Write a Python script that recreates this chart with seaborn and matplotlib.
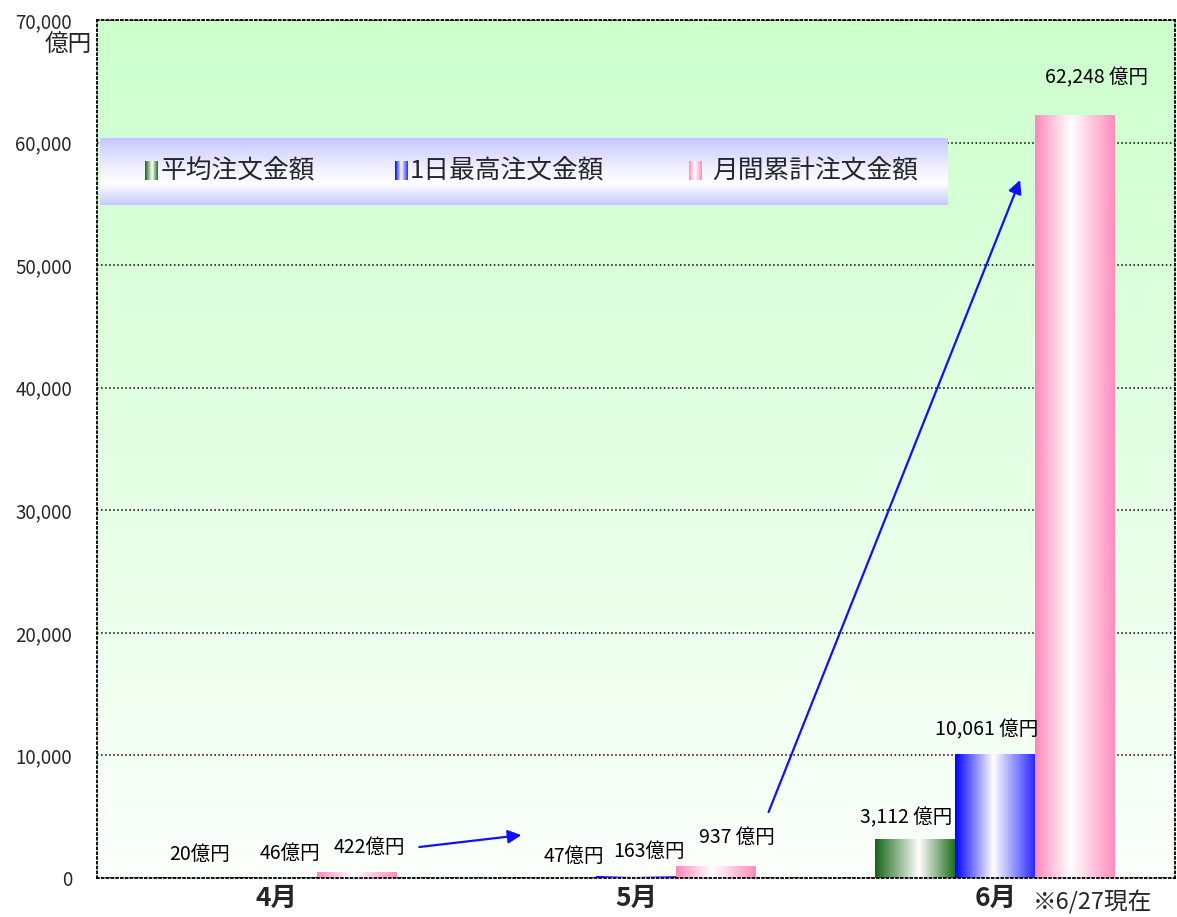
import numpy as np
import pandas as pd
import matplotlib
matplotlib.use('Agg')
import matplotlib.pyplot as plt
from matplotlib.colors import LinearSegmentedColormap
from matplotlib.ticker import FuncFormatter
import seaborn as sns

# ---- data ----
months = ['4月', '5月', '6月']
series = ['平均注文金額', '1日最高注文金額', '月間累計注文金額']
avg_amount = [20, 47, 3112]
max_amount = [46, 163, 10061]
cum_amount = [422, 937, 62248]
avg_labels = ['20億円', '47億円', '3,112 億円']
max_labels = ['46億円', '163億円', '10,061 億円']
cum_labels = ['422億円', '937 億円', '62,248 億円']

df = pd.DataFrame({
    'month': months * 3,
    'series': [series[0]] * 3 + [series[1]] * 3 + [series[2]] * 3,
    'value': avg_amount + max_amount + cum_amount,
    'label': avg_labels + max_labels + cum_labels,
})

sns.set_theme(style='white')
plt.rcParams['font.family'] = ['Noto Sans CJK JP', 'DejaVu Sans']

W, H = 1177, 917
fig = plt.figure(figsize=(W / 100, H / 100), dpi=100)
ax = fig.add_axes([97 / W, 1 - 878 / H, (1175 - 97) / W, (878 - 20) / H])

# edge colours (left, white centre, right) for gradient bars
grad_cols = {
    series[0]: [(0, '#146614'), (0.55, '#ffffff'), (1, '#1f6f1f')],
    series[1]: [(0, '#0000ff'), (0.48, '#ffffff'), (1, '#2a2aff')],
    series[2]: [(0, '#ff88bb'), (0.45, '#ffffff'), (1, '#ff8cbd')],
}
palette = ['#146614', '#0000ff', '#ff88bb']

sns.barplot(data=df, x='month', y='value', hue='series', order=months,
            hue_order=series, palette=palette, width=0.667, saturation=1,
            legend=False, ax=ax, zorder=2)

# background gradient (white bottom -> light green top)
bg = LinearSegmentedColormap.from_list('bg', ['#fbfffb', '#ccffcc'])
ax.imshow(np.linspace(0, 1, 256).reshape(-1, 1), extent=[-0.5, 2.5, 0, 70000],
          origin='lower', aspect='auto', cmap=bg, zorder=0)

# replace flat bars with horizontal gradients
hgrad = np.linspace(0, 1, 256).reshape(1, -1)
for p in list(ax.patches):
    fc = matplotlib.colors.to_hex(p.get_facecolor())
    idx = [matplotlib.colors.to_hex(c) for c in palette].index(fc)
    cmap = LinearSegmentedColormap.from_list('g%d' % idx, grad_cols[series[idx]])
    x0, y0 = p.get_x(), p.get_y()
    ax.imshow(hgrad, extent=[x0, x0 + p.get_width(), y0, y0 + p.get_height()],
              aspect='auto', cmap=cmap, zorder=2, interpolation='bilinear')
    p.set_visible(False)

# value labels
bar_w = 0.667 / 3
nudges = [[(3, 23), (13, 24), (13, 25)],
          [(18, 21), (13, 25), (21, 29)],
          [(-9, 22), (-9, 25), (21, 37)]]
for _, r in df.iterrows():
    i = months.index(r['month'])
    k = series.index(r['series'])
    dx, dy = nudges[i][k]
    ax.annotate(r['label'], xy=(i + (k - 1) * bar_w, r['value']), xytext=(dx, dy),
                textcoords='offset pixels', ha='center', va='center',
                fontsize=14, color='black', zorder=5)

# arrows
arrow_kw = dict(arrowstyle='-|>', color='#1010ff', lw=1.6, mutation_scale=20,
                shrinkA=0, shrinkB=0)
ax.annotate('', xy=(0.681, 3500), xytext=(0.397, 2530), arrowprops=arrow_kw, zorder=6)
ax.annotate('', xy=(2.069, 56950), xytext=(1.369, 5385), arrowprops=arrow_kw, zorder=6)

# axes styling
ax.set_xlim(-0.5, 2.5)
ax.set_ylim(0, 70000)
ax.set_yticks(range(0, 70001, 10000))
ax.yaxis.set_major_formatter(FuncFormatter(lambda v, _: f'{int(v):,}'))
ax.yaxis.grid(True, linestyle=':', color='black', lw=1.1)
ax.set_axisbelow(True)
for g in ax.get_ygridlines():
    g.set_zorder(1)
for s in ax.spines.values():
    s.set_linestyle(':')
    s.set_color('black')
    s.set_linewidth(1.3)
ax.set_xlabel('')
ax.set_ylabel('')
ax.tick_params(axis='y', labelsize=13.5, length=0, pad=18)
ax.tick_params(axis='x', labelsize=19, length=0, pad=5)
for t in ax.get_xticklabels():
    t.set_fontweight('bold')
ax.set_xticks([0.5, 1.5], minor=True)
ax.tick_params(axis='x', which='minor', direction='in', length=7, width=1, color='black')

fig.text(92 / W, 1 - 45 / H, '億円', ha='right', va='center', fontsize=17)
fig.text(1033 / W, 1 - 902 / H, '※6/27現在', ha='left', va='center', fontsize=17)

# legend box with vertical lavender gradient
lax = fig.add_axes([100 / W, 1 - 205 / H, 848 / W, 67 / H], zorder=10)
lav = LinearSegmentedColormap.from_list('lav', [(0, '#c8c8ff'), (0.33, '#ffffff'),
                                                 (0.55, '#f0f0ff'), (1, '#c8c8ff')])
lax.imshow(np.linspace(0, 1, 128).reshape(-1, 1), extent=[0, 1, 0, 1],
           origin='lower', aspect='auto', cmap=lav)
marker_x = [0.053, 0.348, 0.694]
text_x = [0.071, 0.365, 0.722]
for k, name in enumerate(series):
    cmap = LinearSegmentedColormap.from_list('m%d' % k, grad_cols[name])
    lax.imshow(hgrad, extent=[marker_x[k], marker_x[k] + 0.0145, 0.37, 0.64],
               aspect='auto', cmap=cmap)
    lax.text(text_x[k], 0.5, name, ha='left', va='center', fontsize=18.5)
lax.set_xlim(0, 1)
lax.set_ylim(0, 1)
lax.axis('off')

fig.savefig('out.png', dpi=100)
